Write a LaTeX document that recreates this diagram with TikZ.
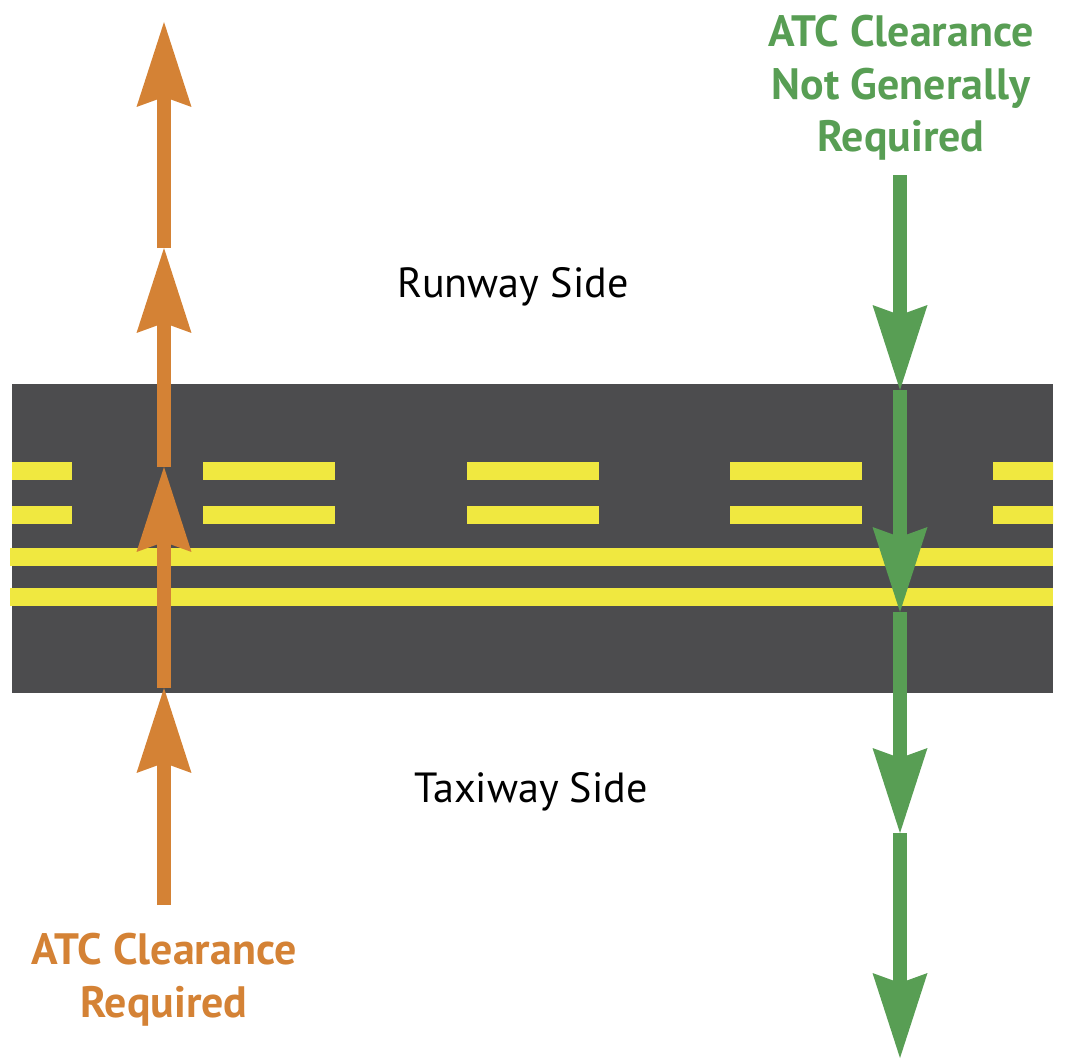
\documentclass[tikz,border=0pt]{standalone}
\usepackage{fontspec}
\setmainfont{PT Sans}
\usetikzlibrary{arrows.meta}
\definecolor{asphalt}{RGB}{76,76,78}
\definecolor{paint}{RGB}{240,232,64}
\definecolor{hold}{RGB}{212,130,53}
\definecolor{free}{RGB}{88,158,84}

\tikzset{
  side/.style={font=\fontsize{24}{28}\selectfont, anchor=base},
  note/.style={font=\bfseries\fontsize{25}{30}\selectfont, align=center, anchor=base},
  leg/.style={line width=0.29cm, -{Stealth[length=1.7cm, width=1.1cm, inset=0.2cm, line width=0pt]}}
}

\begin{document}
\begin{tikzpicture}[x=0.02cm, y=-0.02cm]
  \useasboundingbox (0,0) rectangle (1068,1061);
  % Runway
  \fill[asphalt] (12,384) rectangle (1053,693);
  % Dashed hold lines
  \begin{scope}
    \clip (12,384) rectangle (1053,693);
    \foreach \x in {-60,203,467,730,993} {
      \fill[paint] (\x,462) rectangle ++(132,18);
      \fill[paint] (\x,506) rectangle ++(132,18);
    }
  \end{scope}
  % Solid hold lines
  \fill[paint] (10,548) rectangle (1053,566);
  \fill[paint] (10,588) rectangle (1053,606);
  % Labels
  \node[side] (runway) at (513,297) {Runway Side};
  \node[side] (taxiway) at (531,802) {Taxiway Side};
  % Orange: crossing from taxiway side
  \foreach \n/\y in {0/905,1/688,2/467,3/248,4/22}
    \coordinate (o\n) at (164,\y);
  \foreach \a/\b in {0/1,1/2,2/3,3/4}
    \draw[leg, hold] (o\a) -- (o\b);
  \node[note, text=hold] (holdtxt) at (164,1017) {ATC Clearance\\Required};
  % Green: exiting from runway side
  \foreach \n/\y in {0/175,1/390,2/612,3/833,4/1058}
    \coordinate (g\n) at (900,\y);
  \foreach \a/\b in {0/1,1/2,2/3,3/4}
    \draw[leg, free] (g\a) -- (g\b);
  \node[note, text=free] (freetxt) at (901,152) {ATC Clearance\\Not Generally\\Required};
\end{tikzpicture}
\end{document}
